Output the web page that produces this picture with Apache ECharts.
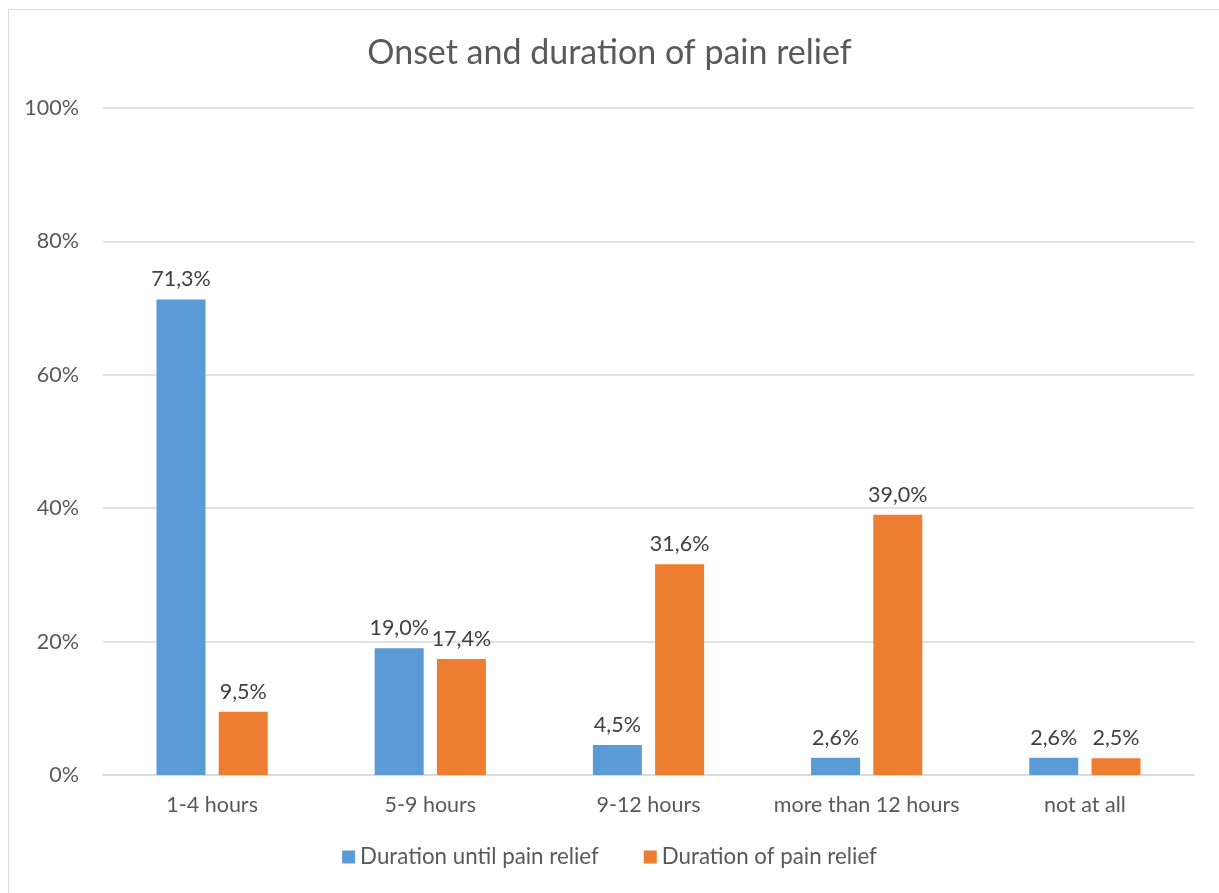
<!DOCTYPE html>
<html><head><meta charset="utf-8">
<script src="https://cdn.jsdelivr.net/npm/echarts@6/dist/echarts.min.js"></script>
<style>html,body{margin:0;padding:0;background:#fff}
#frame{position:absolute;left:8px;top:9px;width:1220px;height:900px;border:1px solid #d9d9d9;box-sizing:border-box}
#c{position:absolute;left:0;top:0;width:1219px;height:893px}</style>
</head><body><div id="frame"></div><div id="c"></div>
<script>
const categories = ['1-4 hours','5-9 hours','9-12 hours','more than 12 hours','not at all'];
const untilRelief = [71.3, 19.0, 4.5, 2.6, 2.6];
const ofRelief = [9.5, 17.4, 31.6, 39.0, 2.5];
const seriesNames = ['Duration until pain relief','Duration of pain relief'];
const font = 'Lato, "Open Sans", sans-serif';
const chart = echarts.init(document.getElementById('c'), null, {renderer:'canvas'});
const lbl = {show:true, position:'top', distance:9, color:'#404040', fontSize:21.5, fontFamily:font,
  formatter: p => p.value.toFixed(1).replace('.', ',') + '%'};
chart.setOption({
  animation:false,
  title:{text:'Onset and duration of pain relief', left:'center', top:31,
    textStyle:{fontFamily:font, fontSize:34, fontWeight:'normal', color:'#595959'}},
  grid:{left:103, right:25, top:108, bottom:118, containLabel:false},
  legend:{bottom:20, left:'center', itemWidth:13, itemHeight:13, itemGap:45,
    icon:'rect', textStyle:{fontFamily:font, fontSize:22.3, color:'#595959'}},
  xAxis:{type:'category', data:categories,
    axisLine:{lineStyle:{color:'#d9d9d9', width:1.5}}, axisTick:{show:false},
    axisLabel:{interval:0, fontFamily:font, fontSize:21.5, color:'#595959', margin:19}},
  yAxis:{type:'value', min:0, max:100, interval:20,
    axisLabel:{formatter:'{value}%', fontFamily:font, fontSize:21.5, color:'#595959', margin:24},
    splitLine:{lineStyle:{color:'#d9d9d9', width:1.5}}, axisLine:{show:false}, axisTick:{show:false}},
  series:[
    {name:seriesNames[0], type:'bar', data:untilRelief, barWidth:49, barGap:'27%', itemStyle:{color:'#5b9bd5'}, label:lbl},
    {name:seriesNames[1], type:'bar', data:ofRelief, barWidth:49, itemStyle:{color:'#ed7d31'}, label:lbl}
  ]
});
</script></body></html>
